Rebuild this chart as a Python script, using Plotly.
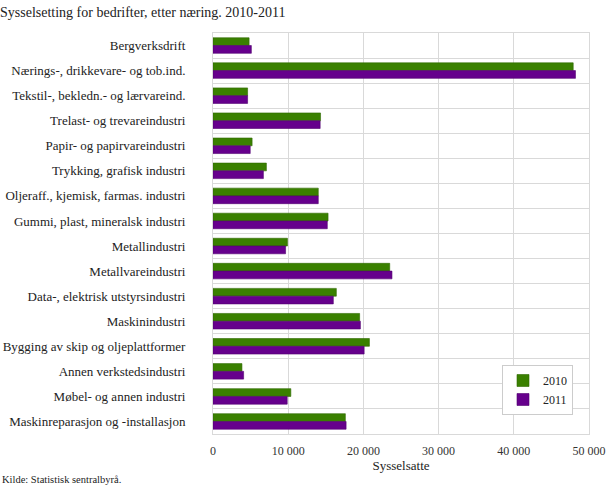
import plotly.graph_objects as go

categories = [
    "Bergverksdrift",
    "Nærings-, drikkevare- og tob.ind.",
    "Tekstil-, bekledn.- og lærvareind.",
    "Trelast- og trevareindustri",
    "Papir- og papirvareindustri",
    "Trykking, grafisk industri",
    "Oljeraff., kjemisk, farmas. industri",
    "Gummi, plast, mineralsk industri",
    "Metallindustri",
    "Metallvareindustri",
    "Data-, elektrisk utstyrsindustri",
    "Maskinindustri",
    "Bygging av skip og oljeplattformer",
    "Annen verkstedsindustri",
    "Møbel- og annen industri",
    "Maskinreparasjon og -installasjon",
]
values_2010 = [4800, 47900, 4600, 14300, 5200, 7100, 14000, 15300, 9900, 23500, 16400, 19500, 20800, 3850, 10350, 17600]
values_2011 = [5100, 48200, 4600, 14250, 4950, 6700, 14000, 15200, 9650, 23800, 16000, 19600, 20100, 4070, 9870, 17700]
tick_vals = [0, 10000, 20000, 30000, 40000, 50000]
tick_text = ["0", "10 000", "20 000", "30 000", "40 000", "50 000"]

font_family = "Liberation Serif, Times New Roman, serif"

L, R, T, B = 213, 21, 33, 54
W, H = 610, 488
PW, PH = W - L - R, H - T - B

fig = go.Figure()
fig.add_trace(go.Bar(
    y=categories, x=values_2010, name="2010", orientation="h",
    marker=dict(color="#3a8000", line=dict(color="#2f6a00", width=0.6)),
))
fig.add_trace(go.Bar(
    y=categories, x=values_2011, name="2011", orientation="h",
    marker=dict(color="#66008c", line=dict(color="#520070", width=0.6)),
))

fig.update_layout(
    width=W, height=H,
    barmode="group", bargap=0.38, bargroupgap=0,
    plot_bgcolor="white", paper_bgcolor="white",
    margin=dict(l=L, r=R, t=T, b=B, autoexpand=False),
    font=dict(family=font_family, size=13, color="#333333"),
    title=dict(text="Sysselsetting for bedrifter, etter næring. 2010-2011",
               x=0.0, xanchor="left", y=1 - 12 / H, yanchor="middle",
               pad=dict(l=0, t=0, b=0, r=0),
               font=dict(family=font_family, size=14, color="#222222")),
    legend=dict(x=(502 - L) / PW, y=(H - B - 365) / PH, xanchor="left", yanchor="top",
                bgcolor="white", bordercolor="#cccccc", borderwidth=1,
                font=dict(family=font_family, size=12, color="#222222"),
                traceorder="normal", itemwidth=30, tracegroupgap=0),
    showlegend=True,
)

fig.update_xaxes(
    range=[0, 50000], tickvals=tick_vals, ticktext=tick_text,
    showgrid=True, gridcolor="#d9d9d9", gridwidth=1,
    showline=True, linecolor="#d9d9d9", mirror=True,
    zeroline=False, ticks="", automargin=False,
    ticklabelstandoff=6,
    title=dict(text="Sysselsatte", font=dict(family=font_family, size=13, color="#222222"), standoff=2),
    tickfont=dict(family=font_family, size=12, color="#333333"),
)
fig.update_yaxes(
    type="category", autorange="reversed", automargin=False,
    tickson="boundaries", showgrid=True, gridcolor="#d9d9d9", gridwidth=1,
    showline=True, linecolor="#d9d9d9", mirror=True, ticks="",
    ticklabelstandoff=24,
    tickfont=dict(family=font_family, size=13, color="#222222"),
)

fig.add_annotation(
    text="Kilde: Statistisk sentralbyrå.", xref="paper", yref="paper",
    x=-L / PW, y=-(479 - (H - B)) / PH, xanchor="left", yanchor="middle", showarrow=False,
    font=dict(family=font_family, size=10.5, color="#222222"),
)

fig.write_html("out.html", config={"displayModeBar": False},
               post_script="document.body.style.margin='0';document.body.style.padding='0';")
